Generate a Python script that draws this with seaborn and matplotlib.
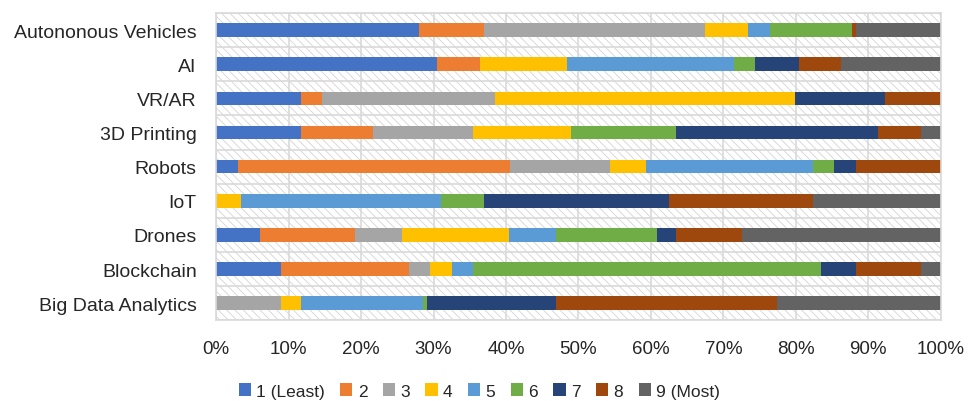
import matplotlib
matplotlib.use("Agg")
import matplotlib.pyplot as plt
import seaborn as sns
import numpy as np
import pandas as pd
from matplotlib.patches import Patch

# categories (top to bottom) and the share of each rating (in %)
categorias = ["Autononous Vehicles", "AI", "VR/AR", "3D Printing", "Robots",
              "IoT", "Drones", "Blockchain", "Big Data Analytics"]
r1 = [28.0, 30.5, 11.7, 11.7, 3.0, 0.0, 6.0, 9.0, 0.0]
r2 = [9.0, 5.9, 2.9, 9.9, 37.5, 0.0, 13.1, 17.6, 0.0]
r3 = [30.4, 0.0, 23.9, 13.9, 13.8, 0.0, 6.5, 2.9, 9.0]
r4 = [6.0, 12.0, 41.4, 13.4, 5.0, 3.4, 14.8, 3.0, 2.7]
r5 = [3.0, 23.0, 0.0, 0.0, 23.0, 27.6, 6.5, 3.0, 16.8]
r6 = [11.4, 3.0, 0.0, 14.5, 3.0, 6.0, 13.9, 47.9, 0.6]
r7 = [0.0, 6.0, 12.4, 27.9, 3.0, 25.5, 2.7, 4.9, 17.8]
r8 = [0.5, 5.8, 7.7, 5.9, 11.7, 19.8, 9.0, 8.9, 30.5]
r9 = [11.7, 13.8, 0.0, 2.8, 0.0, 17.7, 27.5, 2.8, 22.6]
niveis = ["1 (Least)", "2", "3", "4", "5", "6", "7", "8", "9 (Most)"]
x_ticks = [0, 10, 20, 30, 40, 50, 60, 70, 80, 90, 100]

# Excel office palette
CORES = ["#4472C4", "#ED7D31", "#A5A5A5", "#FFC000", "#5B9BD5",
         "#70AD47", "#264478", "#9E480E", "#636363"]

valores = np.array([r1, r2, r3, r4, r5, r6, r7, r8, r9])
valores = valores / valores.sum(axis=0) * 100  # 100% stacked
acumulado = valores.cumsum(axis=0)

plt.rcParams['font.family'] = ['Liberation Sans', 'DejaVu Sans']
plt.rcParams['hatch.linewidth'] = 0.6
plt.rcParams['hatch.color'] = '#d4d4d4'

fig = plt.figure(figsize=(9.78, 4.02), dpi=100)
ax = fig.add_axes([0.221, 0.201, 0.741, 0.764])

# fundo tracejado
ax.patch.set_facecolor('white')
ax.patch.set_hatch('\\\\\\\\')
ax.patch.set_edgecolor('#d4d4d4')

# barras empilhadas: desenha o acumulado do maior para o menor
for i in range(len(niveis) - 1, -1, -1):
    df = pd.DataFrame({'cat': categorias, 'val': acumulado[i]})
    sns.barplot(data=df, x='val', y='cat', order=categorias, orient='h',
                color=CORES[i], saturation=1, width=0.4, errorbar=None,
                linewidth=0, ax=ax)

ax.set_xlim(0, 100)
ax.set_ylim(len(categorias) - 0.5, -0.5)
ax.set_xticks(x_ticks)
ax.set_xticklabels([f"{v}%" for v in x_ticks])
ax.set_yticks(np.arange(-0.5, len(categorias), 1), minor=True)
ax.set_xlabel('')
ax.set_ylabel('')

ax.set_axisbelow(True)
ax.grid(axis='x', color='#d9d9d9', linewidth=1.2)
ax.grid(axis='y', which='minor', color='#d9d9d9', linewidth=1.2)
ax.grid(axis='y', which='major', visible=False)
for s in ax.spines.values():
    s.set_color('#d9d9d9')
    s.set_linewidth(1.2)

ax.tick_params(axis='both', which='both', length=0, colors='#262626')
ax.tick_params(axis='y', pad=14, labelsize=14)
ax.tick_params(axis='x', pad=14, labelsize=13.5)

handles = [Patch(facecolor=c, edgecolor='none') for c in CORES]
fig.legend(handles, niveis, loc='center', bbox_to_anchor=(0.49, 0.025), ncol=9,
           frameon=False, fontsize=12.5, handlelength=0.7, handleheight=0.7,
           handletextpad=0.3, columnspacing=0.9, labelcolor='#262626')

plt.savefig('out.png', dpi=100)
plt.close()
